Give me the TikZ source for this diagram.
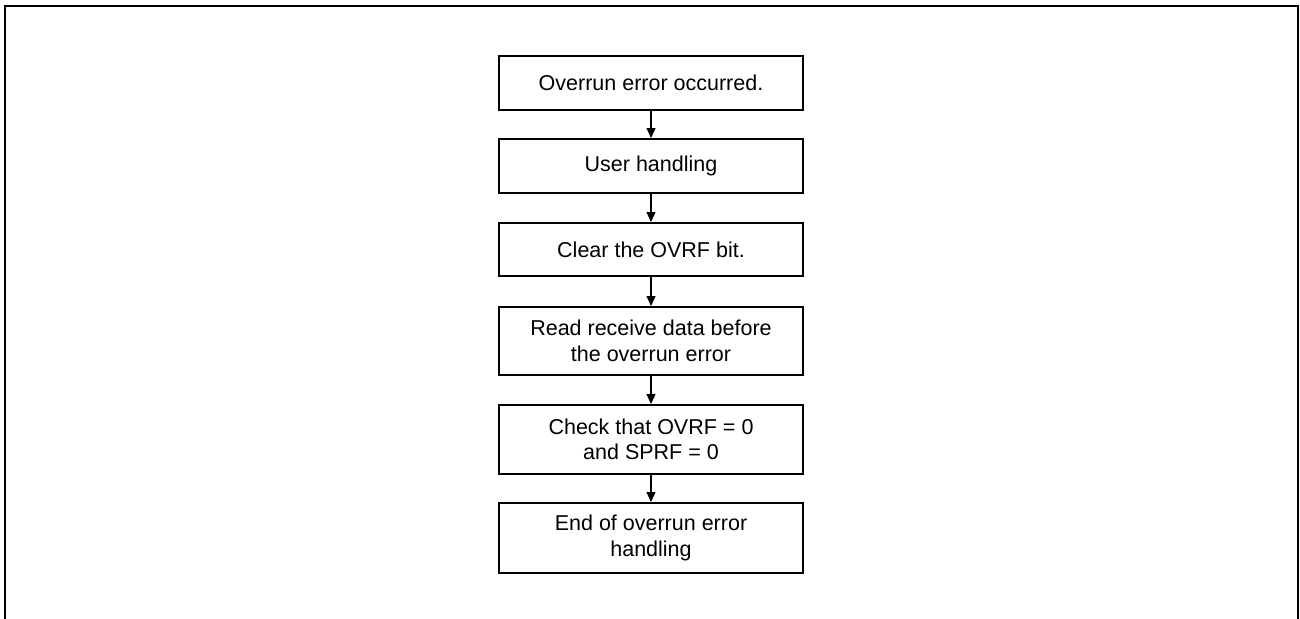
\documentclass[tikz,border=0pt]{standalone}
\usepackage{fontspec}
\setmainfont{Liberation Sans}
\usetikzlibrary{arrows.meta}
\begin{document}
\begin{tikzpicture}[x=1pt,y=-1pt,
  stepbox/.style={draw, line width=1.8pt, minimum width=304pt, inner sep=0pt,
    anchor=north, align=center, font=\fontsize{21.5}{25.5}\selectfont},
  flow/.style={line width=1.2pt, -{Triangle[length=10pt,width=9pt]}}]
\useasboundingbox (0,0) rectangle (1300,618);
\draw[line width=2.4pt] (5,620) -- (5,6) -- (1298,6) -- (1298,620);
\node[stepbox, minimum height=54pt] (b1) at (651,55) {Overrun error occurred.};
\node[stepbox, minimum height=54pt] (b2) at (651,138) {User handling};
\node[stepbox, minimum height=53pt] (b3) at (651,222) {Clear the OVRF bit.};
\node[stepbox, minimum height=68pt] (b4) at (651,306) {Read receive data before\\the overrun error};
\node[stepbox, minimum height=69pt] (b5) at (651,404) {Check that OVRF = 0\\and SPRF = 0};
\node[stepbox, minimum height=70pt] (b6) at (651,502) {End of overrun error\\handling};
\draw[flow] (b1) -- (b2);
\draw[flow] (b2) -- (b3);
\draw[flow] (b3) -- (b4);
\draw[flow] (b4) -- (b5);
\draw[flow] (b5) -- (b6);
\end{tikzpicture}
\end{document}
